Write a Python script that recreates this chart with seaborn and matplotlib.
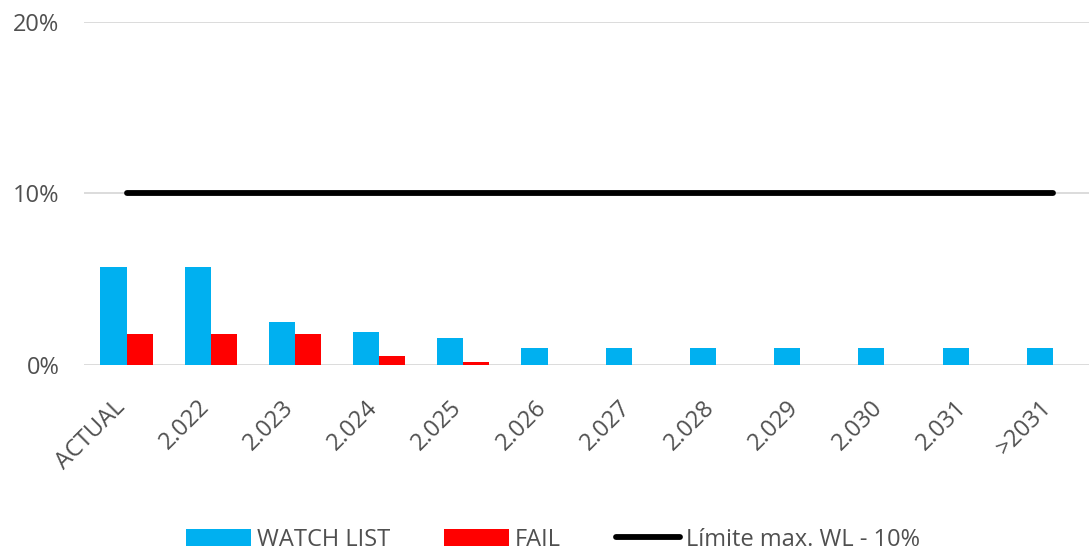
import numpy as np
import pandas as pd
import seaborn as sns
import matplotlib
matplotlib.use("Agg")
import matplotlib.pyplot as plt
from matplotlib.ticker import PercentFormatter
from matplotlib.transforms import ScaledTranslation

# Data
categories = ["ACTUAL", "2.022", "2.023", "2.024", "2.025", "2.026",
              "2.027", "2.028", "2.029", "2.030", "2.031", ">2031"]
watch_list = [0.057, 0.057, 0.025, 0.019, 0.016, 0.010,
              0.010, 0.010, 0.010, 0.010, 0.010, 0.010]
fail = [0.018, 0.018, 0.018, 0.005, 0.002, 0.0,
        0.0, 0.0, 0.0, 0.0, 0.0, 0.0]
limit = [0.10] * len(categories)

series_names = ["WATCH LIST", "FAIL"]
limit_label = "Límite max. WL - 10%"

df = pd.DataFrame({
    "categoria": categories * 2,
    "serie": [series_names[0]] * len(categories) + [series_names[1]] * len(categories),
    "valor": watch_list + fail,
})

sns.set_theme(style="white")
plt.rcParams["font.family"] = ["Open Sans", "DejaVu Sans"]

text_color = "#505050"
grid_color = "#D9D9D9"
fs = 17

fig = plt.figure(figsize=(10.89, 5.53), dpi=100)
ax = fig.add_axes([0.0775, 0.340, 0.928, 0.621])

sns.barplot(data=df, x="categoria", y="valor", hue="serie",
            palette={"WATCH LIST": "#00B0F0", "FAIL": "#FF0000"},
            width=0.62, gap=0, saturation=1, linewidth=0,
            ax=ax, zorder=3)

ax.plot(np.arange(len(categories)), limit, color="black", lw=4.2,
        solid_capstyle="round", label=limit_label, zorder=4)

ax.set_ylim(0, 0.20)
ax.set_yticks([0, 0.10, 0.20])
ax.yaxis.set_major_formatter(PercentFormatter(1.0, decimals=0))
ax.set_xlim(-0.5, len(categories) - 0.5)
ax.grid(axis="y", color=grid_color, lw=1.3, zorder=0)
ax.set_axisbelow(True)
for s in ax.spines.values():
    s.set_visible(False)
ax.set_xlabel("")
ax.set_ylabel("")

ax.tick_params(axis="y", length=0, pad=18, labelsize=fs, labelcolor=text_color)
ax.tick_params(axis="x", length=0, pad=28, labelsize=fs, labelcolor=text_color)
shift = ScaledTranslation(-5 / 100, 0, fig.dpi_scale_trans)
for lab in ax.get_xticklabels():
    lab.set_rotation(45)
    lab.set_ha("right")
    lab.set_va("center")
    lab.set_rotation_mode("anchor")
    lab.set_transform(lab.get_transform() + shift)

handles, labels = ax.get_legend_handles_labels()
ax.get_legend().remove()
order = [labels.index(n) for n in series_names + [limit_label]]
fig.legend([handles[i] for i in order], [labels[i] for i in order],
           loc="center left", bbox_to_anchor=(186 / 1089, 0.0244), ncol=3,
           frameon=False, borderpad=0, borderaxespad=0,
           fontsize=fs, labelcolor=text_color, handlelength=2.75,
           handleheight=0.72, handletextpad=0.25, columnspacing=2.3)

fig.savefig("out.png", dpi=100, facecolor="white")
